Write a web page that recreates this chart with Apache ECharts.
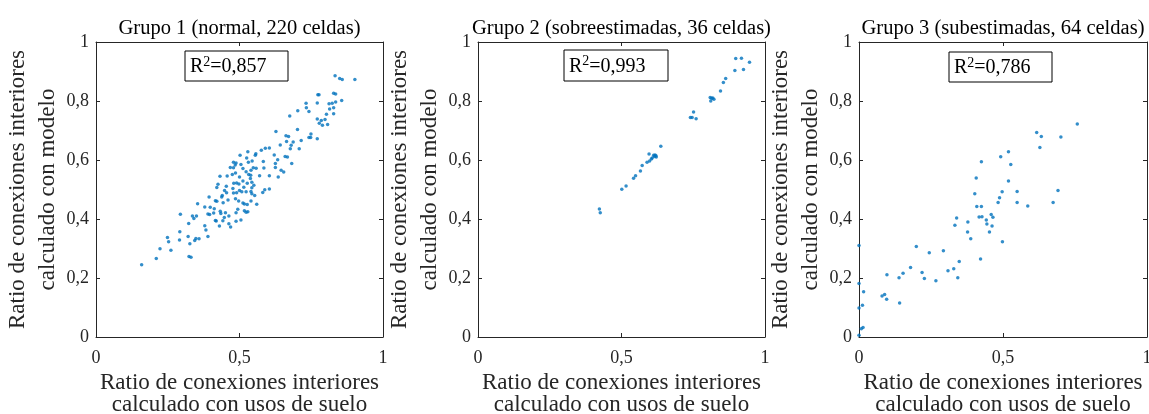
<!DOCTYPE html>
<html><head><meta charset="utf-8">
<script src="https://cdn.jsdelivr.net/npm/echarts@6/dist/echarts.min.js"></script>
<style>html,body{margin:0;padding:0;background:#fff}#c{width:1149px;height:414px}</style>
</head><body><div id="c"></div><script>
const grupo1 = [
[0.833,0.886],[0.849,0.876],[0.858,0.873],[0.902,0.873],
[0.773,0.821],[0.777,0.821],[0.828,0.826],[0.835,0.824],
[0.856,0.802],[0.835,0.797],[0.823,0.792],[0.812,0.791],[0.771,0.793],[0.732,0.792],
[0.733,0.777],[0.742,0.764],[0.703,0.767],[0.828,0.777],[0.814,0.773],[0.828,0.757],[0.803,0.755],
[0.675,0.749],[0.771,0.739],[0.785,0.734],[0.798,0.737],[0.807,0.720],[0.789,0.718],[0.778,0.725],
[0.702,0.703],[0.627,0.697],
[0.662,0.682],[0.671,0.680],[0.749,0.688],[0.742,0.676],[0.748,0.676],[0.771,0.672],[0.715,0.666],
[0.664,0.663],[0.687,0.661],[0.680,0.650],[0.642,0.651],[0.604,0.641],[0.590,0.640],[0.576,0.633],[0.557,0.621],[0.529,0.628],[0.502,0.616],
[0.677,0.638],[0.708,0.638],[0.659,0.612],[0.667,0.610],[0.621,0.617],[0.633,0.601],[0.555,0.616],[0.525,0.607],[0.531,0.592],
[0.479,0.592],[0.488,0.590],[0.485,0.583],[0.505,0.585],[0.544,0.597],[0.583,0.595],[0.625,0.588],[0.625,0.575],[0.682,0.588],[0.585,0.573],
[0.479,0.574],[0.468,0.575],[0.512,0.571],[0.523,0.560],[0.548,0.574],[0.558,0.572],[0.540,0.565],[0.645,0.565],[0.654,0.559],[0.604,0.547],[0.635,0.542],
[0.432,0.545],[0.457,0.546],[0.475,0.551],[0.486,0.556],[0.500,0.542],[0.532,0.551],[0.539,0.548],[0.570,0.547],[0.538,0.537],
[0.425,0.518],[0.421,0.507],[0.454,0.511],[0.480,0.521],[0.490,0.522],[0.498,0.519],[0.512,0.529],[0.527,0.521],[0.543,0.525],[0.515,0.508],[0.550,0.514],[0.543,0.506],
[0.477,0.503],[0.479,0.488],[0.448,0.497],[0.455,0.489],[0.440,0.480],[0.438,0.475],[0.490,0.489],[0.500,0.497],[0.508,0.492],[0.523,0.492],[0.540,0.493],[0.543,0.486],[0.588,0.499],[0.581,0.490],[0.604,0.502],[0.553,0.480],
[0.394,0.475],[0.416,0.462],[0.421,0.460],[0.443,0.455],[0.460,0.464],[0.486,0.469],[0.497,0.461],[0.512,0.454],[0.517,0.451],[0.527,0.449],[0.540,0.461],[0.560,0.450],
[0.354,0.452],[0.379,0.441],[0.398,0.440],[0.412,0.435],[0.410,0.420],[0.396,0.415],[0.390,0.417],[0.433,0.426],[0.435,0.419],[0.451,0.421],[0.447,0.405],[0.442,0.394],[0.463,0.410],[0.488,0.421],[0.494,0.433],[0.517,0.428],[0.523,0.423],[0.529,0.425],
[0.294,0.416],[0.336,0.410],[0.341,0.402],[0.350,0.410],[0.323,0.385],[0.379,0.377],[0.383,0.363],[0.430,0.376],[0.463,0.384],[0.469,0.373],[0.416,0.395],[0.419,0.393],[0.505,0.397],[0.488,0.392],
[0.249,0.337],[0.253,0.323],[0.292,0.357],[0.291,0.329],[0.321,0.341],[0.327,0.316],[0.348,0.334],[0.359,0.333],[0.344,0.327],[0.390,0.341],
[0.223,0.299],[0.261,0.294],[0.210,0.266],[0.324,0.273],[0.331,0.270],[0.159,0.245]
];
const grupo2 = [
[0.898,0.944],[0.918,0.945],[0.946,0.931],[0.895,0.903],[0.925,0.907],
[0.863,0.876],[0.855,0.863],[0.845,0.834],
[0.809,0.812],[0.814,0.809],[0.822,0.806],[0.811,0.800],[0.818,0.810],
[0.751,0.763],[0.740,0.744],[0.746,0.744],[0.760,0.740],
[0.637,0.647],
[0.596,0.620],[0.607,0.607],[0.617,0.617],[0.620,0.614],[0.615,0.612],[0.621,0.610],[0.604,0.603],[0.598,0.597],[0.589,0.592],[0.612,0.616],
[0.572,0.581],[0.566,0.563],[0.549,0.547],[0.542,0.538],
[0.516,0.512],[0.501,0.501],
[0.423,0.434],[0.426,0.421]
];
const grupo3 = [
[0.758,0.722],[0.617,0.693],[0.633,0.680],[0.701,0.678],[0.628,0.642],
[0.519,0.628],[0.492,0.611],[0.527,0.585],[0.425,0.594],
[0.407,0.539],[0.519,0.529],[0.402,0.486],[0.497,0.492],[0.549,0.493],[0.488,0.472],[0.483,0.456],[0.549,0.456],[0.586,0.444],[0.674,0.456],[0.691,0.497],
[0.409,0.442],[0.425,0.442],[0.417,0.407],[0.427,0.408],[0.459,0.415],[0.465,0.406],[0.442,0.397],[0.444,0.383],[0.462,0.376],[0.453,0.356],[0.378,0.390],[0.333,0.379],[0.339,0.403],[0.377,0.356],[0.388,0.333],[0.498,0.323],
[0.000,0.310],[0.199,0.307],[0.244,0.286],[0.293,0.292],[0.422,0.264],[0.348,0.256],[0.309,0.225],[0.329,0.231],[0.219,0.219],[0.179,0.236],[0.153,0.216],[0.227,0.198],[0.139,0.201],[0.097,0.211],[0.267,0.191],[0.343,0.201],
[0.000,0.181],[0.016,0.153],[0.080,0.139],[0.089,0.144],[0.096,0.128],[0.012,0.108],[0.141,0.115],[0.000,0.098],
[0.008,0.028],[0.014,0.032],[0.000,0.006]
];
const titulos = ['Grupo 1 (normal, 220 celdas)', 'Grupo 2 (sobreestimadas, 36 celdas)', 'Grupo 3 (subestimadas, 64 celdas)'];
const r2Valores = ['0,857', '0,993', '0,786'];
const xTicks = [0, 0.5, 1];
const xTickLabels = ['0', '0,5', '1'];
const yTicks = [0, 0.2, 0.4, 0.6, 0.8, 1];
const yTickLabels = ['0', '0,2', '0,4', '0,6', '0,8', '1'];
const xNombre = 'Ratio de conexiones interiores\ncalculado con usos de suelo';
const yNombre = 'Ratio de conexiones interiores\ncalculado con modelo';

const FONT = '"Liberation Serif", "Times New Roman", serif';
const INK = '#262626';
const BLUE = '#0072BD';
const grids = [
  {left: 96, top: 42, width: 287, height: 295},
  {left: 478, top: 42, width: 287, height: 295},
  {left: 859, top: 42, width: 288, height: 295}
];
const boxes = [
  {x: 185, y: 51, w: 103, h: 30},
  {x: 564, y: 50, w: 104, h: 31},
  {x: 949, y: 52, w: 103, h: 30}
];
const datos = [grupo1, grupo2, grupo3];

function nearestLabel(ticks, labels, v) {
  let best = 0;
  for (let i = 1; i < ticks.length; i++) if (Math.abs(ticks[i] - v) < Math.abs(ticks[best] - v)) best = i;
  return labels[best];
}

const xAxis = [], yAxis = [], series = [], graphic = [];
grids.forEach((g, i) => {
  const tickStyle = {show: true, inside: true, length: 4, lineStyle: {color: INK, width: 1}};
  xAxis.push({
    gridIndex: i, type: 'value', min: 0, max: 1, interval: 0.5, position: 'bottom',
    axisLine: {show: true, onZero: false, lineStyle: {color: INK, width: 1}},
    axisTick: tickStyle, splitLine: {show: false},
    axisLabel: {color: INK, fontFamily: FONT, fontSize: 18, margin: 12,
      formatter: v => nearestLabel(xTicks, xTickLabels, v)},
    name: xNombre, nameLocation: 'middle', nameGap: 21,
    nameTextStyle: {color: INK, fontFamily: FONT, fontSize: 23, lineHeight: 22}
  });
  xAxis.push({
    gridIndex: i, type: 'value', min: 0, max: 1, interval: 0.5, position: 'top',
    axisLine: {show: true, onZero: false, lineStyle: {color: INK, width: 1}},
    axisTick: tickStyle, splitLine: {show: false}, axisLabel: {show: false}
  });
  yAxis.push({
    gridIndex: i, type: 'value', min: 0, max: 1, interval: 0.2, position: 'left',
    axisLine: {show: true, onZero: false, lineStyle: {color: INK, width: 1}},
    axisTick: tickStyle, splitLine: {show: false},
    axisLabel: {color: INK, fontFamily: FONT, fontSize: 18, margin: 7,
      formatter: v => nearestLabel(yTicks, yTickLabels, v)},
    name: yNombre, nameLocation: 'middle', nameGap: 23,
    nameTextStyle: {color: INK, fontFamily: FONT, fontSize: 23, lineHeight: 30}
  });
  yAxis.push({
    gridIndex: i, type: 'value', min: 0, max: 1, interval: 0.2, position: 'right',
    axisLine: {show: true, onZero: false, lineStyle: {color: INK, width: 1}},
    axisTick: tickStyle, splitLine: {show: false}, axisLabel: {show: false}
  });
  series.push({
    type: 'scatter', xAxisIndex: 2 * i, yAxisIndex: 2 * i, data: datos[i],
    symbol: 'circle', symbolSize: 3.5, itemStyle: {color: BLUE}, silent: true, animation: false
  });
  graphic.push({
    type: 'text', x: g.left + g.width / 2, y: 29,
    style: {text: titulos[i], fill: '#000', fontFamily: FONT, fontSize: 20.5, align: 'center', verticalAlign: 'middle'}
  });
  const b = boxes[i];
  graphic.push({
    type: 'rect', shape: {x: b.x, y: b.y, width: b.w, height: b.h},
    style: {fill: '#fff', stroke: '#000', lineWidth: 1}, z: 10
  });
  graphic.push({
    type: 'text', x: b.x + 5, y: b.y + b.h / 2 + 1, z: 11,
    style: {
      text: '{r|R}{s|2}{r|=' + r2Valores[i] + '}', align: 'left', verticalAlign: 'middle',
      rich: {
        r: {fontFamily: FONT, fontSize: 20, fill: '#000', lineHeight: 24},
        s: {fontFamily: FONT, fontSize: 14, fill: '#000', verticalAlign: 'top', lineHeight: 24}
      }
    }
  });
});

const chart = echarts.init(document.getElementById('c'));
chart.setOption({
  animation: false,
  backgroundColor: '#fff',
  grid: grids.map(g => Object.assign({containLabel: false, outerBoundsMode: 'none', show: false}, g)),
  xAxis, yAxis, series, graphic
});
</script></body></html>
